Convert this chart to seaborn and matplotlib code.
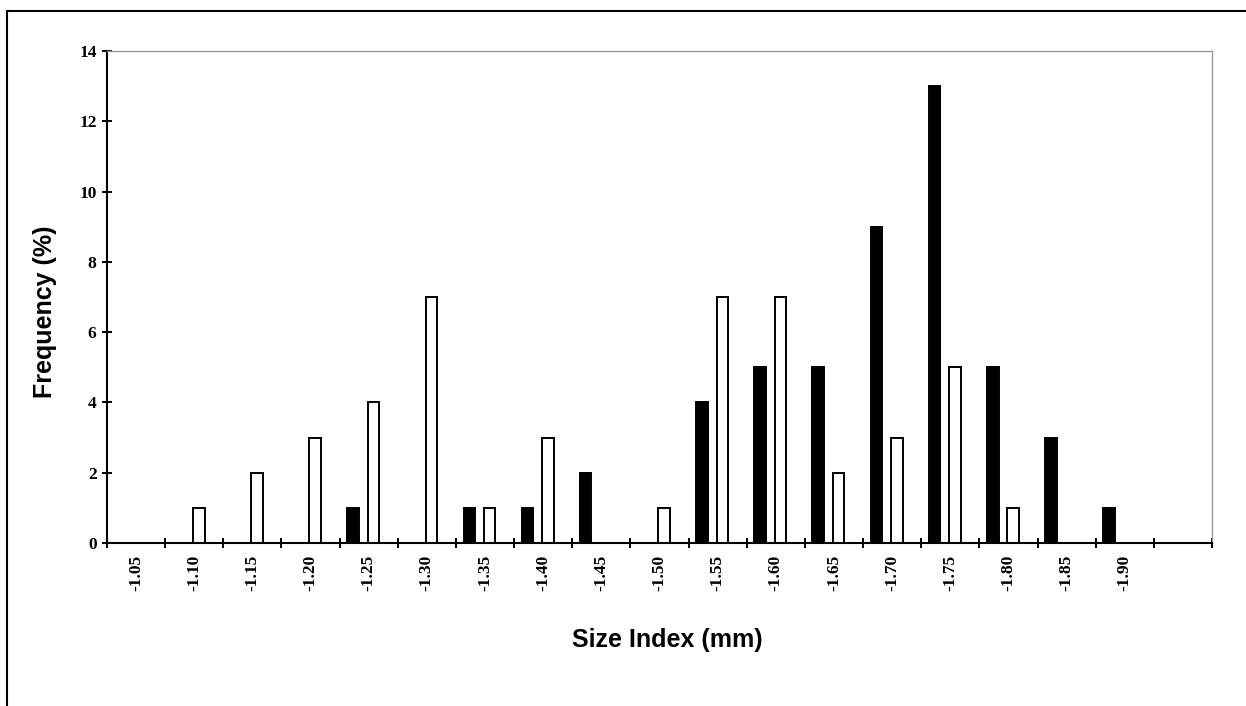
import numpy as np
import pandas as pd
import matplotlib
matplotlib.use("Agg")
import matplotlib.pyplot as plt
from matplotlib.patches import Rectangle
import seaborn as sns

# Size classes and frequencies
size_index = ["-1.05", "-1.10", "-1.15", "-1.20", "-1.25", "-1.30", "-1.35", "-1.40", "-1.45",
              "-1.50", "-1.55", "-1.60", "-1.65", "-1.70", "-1.75", "-1.80", "-1.85", "-1.90"]
freq_black = [0, 0, 0, 0, 1, 0, 1, 1, 2, 0, 4, 5, 5, 9, 13, 5, 3, 1]
freq_white = [0, 1, 2, 3, 4, 7, 1, 3, 0, 1, 7, 7, 2, 3, 5, 1, 0, 0]
y_ticks = [0, 2, 4, 6, 8, 10, 12, 14]

df = pd.DataFrame({
    "size": size_index * 2,
    "freq": freq_black + freq_white,
    "group": ["black"] * len(size_index) + ["white"] * len(size_index),
})

sns.set_style("white")
plt.rcParams["font.family"] = ["Liberation Serif", "DejaVu Serif"]
plt.rcParams.update({"text.color": "black", "axes.labelcolor": "black",
                     "xtick.color": "black", "ytick.color": "black"})

fig = plt.figure(figsize=(12.46, 7.06), dpi=100)
ax = fig.add_axes([107 / 1246, 1 - 543 / 706, 1105 / 1246, 492 / 706])

sns.barplot(data=df, x="size", y="freq", hue="group", order=size_index,
            hue_order=["black", "white"], palette={"black": "black", "white": "white"},
            edgecolor="black", linewidth=1.4, width=0.7, gap=0.43,
            errorbar=None, legend=False, ax=ax)

# bar pairs sit slightly left of the slot centre, like the original
shift = 0.095
n = len(size_index)
centers = np.arange(n) + shift
bounds = np.arange(n + 2) + shift - 0.5
ax.set_xlim(bounds[0], bounds[-1])
ax.set_ylim(0, 14)

ax.set_xticks(centers)
ax.set_xticklabels(size_index, rotation=90, fontweight="bold", fontsize=12.5)
ax.set_xticks(bounds, minor=True)
ax.tick_params(axis="x", which="major", length=0, pad=8.5, bottom=True)
ax.tick_params(axis="x", which="minor", direction="inout", length=7, width=1.4,
               color="black", bottom=True)

ax.set_yticks(y_ticks)
ax.set_yticklabels([str(v) for v in y_ticks], fontweight="bold", fontsize=12.5)
ax.tick_params(axis="y", direction="inout", length=7, width=1.4, color="black", pad=4, left=True)

for side in ["left", "bottom"]:
    ax.spines[side].set_color("black")
    ax.spines[side].set_linewidth(1.5)
for side in ["top", "right"]:
    ax.spines[side].set_visible(True)
    ax.spines[side].set_color("#999999")
    ax.spines[side].set_linewidth(1.0)

ax.set_xlabel("Size Index (mm)", fontsize=18, fontweight="bold", color="black",
              family=["Liberation Sans", "DejaVu Sans"], va="center")
ax.xaxis.set_label_coords(0.507, -0.197)
ax.set_ylabel("Frequency (%)", fontsize=18, fontweight="bold", color="black",
              family=["Liberation Sans", "DejaVu Sans"], va="center")
ax.yaxis.set_label_coords(-0.056, 0.47)

# outer frame around the chart area
fig.add_artist(Rectangle((7 / 1246, -0.02), 1.05, 1 - 11 / 706 + 0.02,
                         transform=fig.transFigure, fill=False,
                         edgecolor="black", linewidth=1.5))

fig.savefig("out.png", dpi=100)
